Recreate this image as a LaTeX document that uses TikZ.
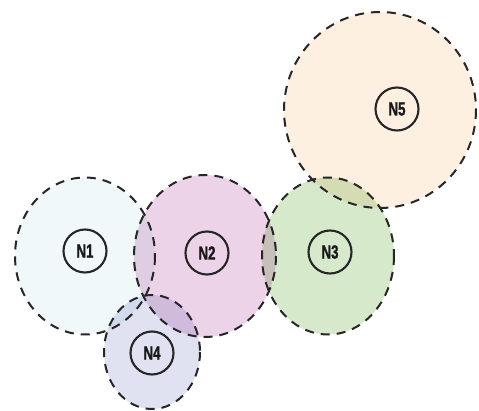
\documentclass[tikz,border=0pt]{standalone}
\usepackage{fontspec}
\setsansfont{Liberation Sans}
\newfontfamily\labfont[FakeStretch=0.7,FakeBold=1.2]{Liberation Sans Bold}
\usetikzlibrary{shapes.geometric}
\begin{document}
\begin{tikzpicture}[x=1pt,y=-1pt,
  region/.style={ellipse, inner sep=0pt},
  rim/.style={draw=black!85, line width=2pt, dash pattern=on 9pt off 7pt},
  tag/.style={circle, draw=black!85, line width=2.1pt, minimum size=43pt, inner sep=0pt, font=\labfont\fontsize{19}{19}\selectfont, text=black!90}]
\useasboundingbox (0,0) rectangle (479,411);
\definecolor{cA}{HTML}{F0F8FA}
\definecolor{cB}{HTML}{EDD3E8}
\definecolor{cC}{HTML}{D6E9CB}
\definecolor{cD}{HTML}{E0E2F2}
\definecolor{cE}{HTML}{FEF0E0}
\begin{scope}[blend group=multiply]
\node[region, fill=cE, minimum width=192pt, minimum height=196pt] (e5) at (380,110) {};
\node[region, fill=cA, minimum width=140pt, minimum height=157pt] (e1) at (85,256) {};
\node[region, fill=cB, minimum width=142pt, minimum height=162pt] (e2) at (205,256) {};
\node[region, fill=cC, minimum width=132pt, minimum height=157pt] (e3) at (328,256) {};
\node[region, fill=cD, minimum width=96pt, minimum height=114pt] (e4) at (152,352) {};
\end{scope}
\draw[rim] (e5.center) ellipse [x radius=96, y radius=98];
\draw[rim] (e1.center) ellipse [x radius=70, y radius=78.5];
\draw[rim] (e2.center) ellipse [x radius=71, y radius=81];
\draw[rim] (e3.center) ellipse [x radius=66, y radius=78.5];
\draw[rim] (e4.center) ellipse [x radius=48, y radius=57];
\node[tag] (n1) at (85,251) {N1};
\node[tag] (n2) at (207,253) {N2};
\node[tag] (n3) at (330,252) {N3};
\node[tag] (n4) at (152,353) {N4};
\node[tag] (n5) at (397,109) {N5};
\end{tikzpicture}
\end{document}
